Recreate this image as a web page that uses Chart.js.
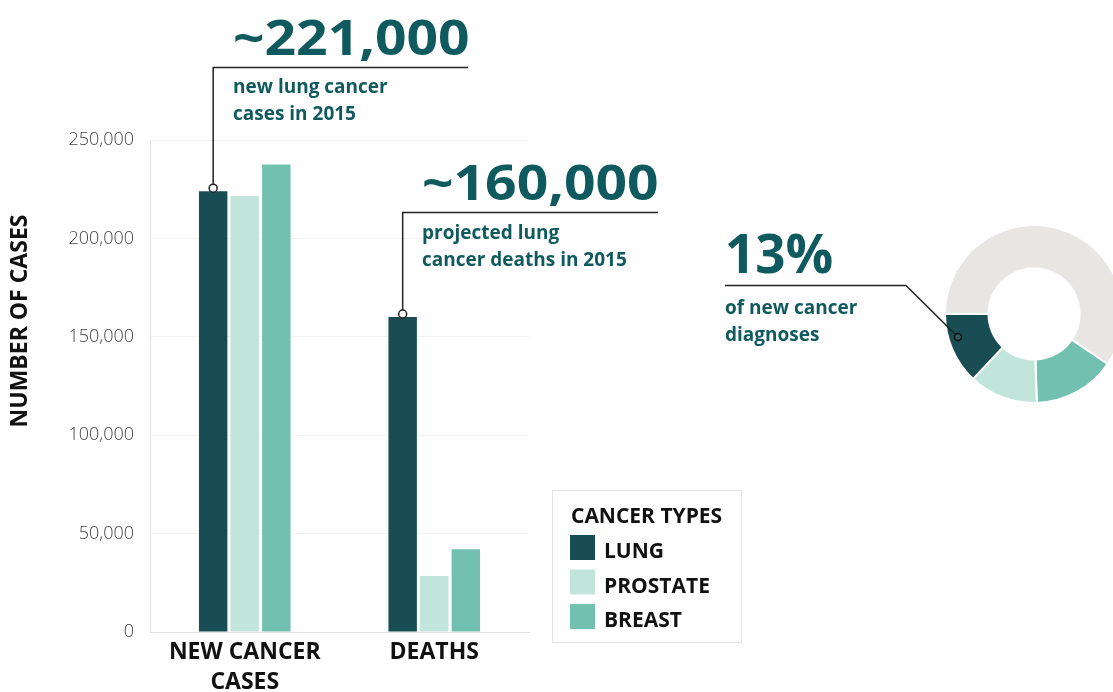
<!DOCTYPE html>
<html>
<head>
<meta charset="utf-8">
<script src="https://cdn.jsdelivr.net/npm/chart.js@4.4.0/dist/chart.umd.min.js"></script>
<style>
  html, body { margin: 0; padding: 0; width: 1113px; height: 692px; overflow: hidden; background: #fff; }
  canvas { position: absolute; left: 0; top: 0; }
</style>
</head>
<body>
<canvas id="bars" width="1113" height="692"></canvas>
<canvas id="ring" width="1200" height="692"></canvas>
<script>
// values
const categories = [["NEW CANCER", "CASES"], "DEATHS"];
const cancerTypes = ["LUNG", "PROSTATE", "BREAST"];
const lungCases = [224000, 160000];
const prostateCases = [221500, 28500];
const breastCases = [237500, 42000];
const yTicks = [0, 50000, 100000, 150000, 200000, 250000];

// share of new diagnoses (%), clockwise from 9 o'clock
const shareLabels = ["Other", "Breast", "Prostate", "Lung"];
const shareValues = [59.5, 15, 12.5, 13];

const colors = ["#174d53", "#c1e5db", "#72c1b0"];
const teal = "#0f5a5f";

function label(ctx, text, x, y, size, color, sx) {
  ctx.save();
  ctx.font = "bold " + size + 'px "Open Sans"';
  ctx.fillStyle = color;
  ctx.textBaseline = "alphabetic";
  ctx.translate(x, y);
  ctx.scale(sx || 1, 1);
  ctx.fillText(text, 0, 0);
  ctx.restore();
}

function callout(ctx, bar, lineY, lineEnd) {
  const cy = bar.y - 3;
  ctx.save();
  ctx.strokeStyle = "#222";
  ctx.lineWidth = 1.5;
  ctx.beginPath();
  ctx.moveTo(lineEnd, lineY);
  ctx.lineTo(bar.x, lineY);
  ctx.lineTo(bar.x, cy);
  ctx.stroke();
  ctx.beginPath();
  ctx.arc(bar.x, cy, 4, 0, Math.PI * 2);
  ctx.fillStyle = "#fff";
  ctx.fill();
  ctx.stroke();
  ctx.restore();
}

const barExtras = {
  id: "barExtras",
  afterDraw(chart) {
    const ctx = chart.ctx;

    // y axis title
    ctx.save();
    ctx.translate(20, 321);
    ctx.rotate(-Math.PI / 2);
    ctx.font = 'bold 23px "Open Sans"';
    ctx.fillStyle = "#111";
    ctx.textAlign = "center";
    ctx.textBaseline = "middle";
    ctx.fillText("NUMBER OF CASES", 0, 0);
    ctx.restore();

    // callouts on the lung bars
    const lung = chart.getDatasetMeta(0).data;
    callout(ctx, lung[0], 67.5, 468);
    label(ctx, "~221,000", 233, 55, 48, teal, 1.15);
    label(ctx, "new lung cancer", 233, 93, 19, teal);
    label(ctx, "cases in 2015", 233, 120, 19, teal);

    callout(ctx, lung[1], 212.5, 658);
    label(ctx, "~160,000", 422, 200, 48, teal, 1.15);
    label(ctx, "projected lung", 422, 239, 19, teal);
    label(ctx, "cancer deaths in 2015", 422, 266, 19, teal);

    // legend box
    ctx.save();
    ctx.strokeStyle = "#e4e4e4";
    ctx.lineWidth = 1;
    ctx.strokeRect(552.5, 490.5, 189, 152);
    ctx.restore();
    label(ctx, "CANCER TYPES", 571, 523, 21, "#111");
    const rows = [535, 569.5, 604];
    chart.data.datasets.forEach((ds, i) => {
      ctx.fillStyle = ds.backgroundColor;
      ctx.fillRect(570, rows[i], 25, 25);
      label(ctx, ds.label, 604, rows[i] + 23, 21, "#111");
    });
  }
};

new Chart(document.getElementById("bars"), {
  type: "bar",
  data: {
    labels: categories,
    datasets: [
      { label: cancerTypes[0], data: lungCases, backgroundColor: colors[0] },
      { label: cancerTypes[1], data: prostateCases, backgroundColor: colors[1] },
      { label: cancerTypes[2], data: breastCases, backgroundColor: colors[2] },
    ],
  },
  options: {
    responsive: false,
    animation: false,
    events: [],
    barPercentage: 0.9,
    categoryPercentage: 0.5,
    layout: { padding: { left: 0, top: 140, right: 1113 - 529, bottom: 0 } },
    plugins: { legend: { display: false }, tooltip: { enabled: false } },
    scales: {
      x: {
        grid: { display: false, drawTicks: false },
        border: { color: "#e2e2e2" },
        ticks: {
          color: "#111",
          padding: 6,
          font: { family: "Open Sans", size: 23, weight: "bold", lineHeight: 1.3 },
        },
        afterFit(scale) { scale.height = 60; },
      },
      y: {
        min: 0,
        max: 250000,
        afterBuildTicks(scale) { scale.ticks = yTicks.map((v) => ({ value: v })); },
        grid: { color: "#f2f2f2", drawTicks: false },
        border: { color: "#e2e2e2" },
        ticks: {
          color: "#444",
          padding: 16,
          font: { family: "Open Sans", size: 18, weight: 300 },
          callback: (v) => v.toLocaleString("en-US"),
        },
        afterFit(scale) { scale.width = 150; },
      },
    },
  },
  plugins: [barExtras],
});

const ringExtras = {
  id: "ringExtras",
  afterDraw(chart) {
    const ctx = chart.ctx;
    const arc = chart.getDatasetMeta(0).data[3];
    const a = arc.endAngle - 0.36 * (arc.endAngle - arc.startAngle);
    const r = arc.innerRadius + 0.78 * (arc.outerRadius - arc.innerRadius);
    const px = arc.x + Math.cos(a) * r;
    const py = arc.y + Math.sin(a) * r;

    ctx.save();
    ctx.strokeStyle = "#222";
    ctx.lineWidth = 1.5;
    ctx.beginPath();
    ctx.moveTo(725, 285.5);
    ctx.lineTo(906, 285.5);
    ctx.lineTo(px, py);
    ctx.stroke();
    ctx.beginPath();
    ctx.arc(px, py, 3.5, 0, Math.PI * 2);
    ctx.fillStyle = "#2a5a5e";
    ctx.fill();
    ctx.strokeStyle = "#111";
    ctx.stroke();
    ctx.restore();

    label(ctx, "13%", 725, 273, 53, teal);
    label(ctx, "of new cancer", 725, 314, 19, teal);
    label(ctx, "diagnoses", 725, 341, 19, teal);
  }
};

new Chart(document.getElementById("ring"), {
  type: "doughnut",
  data: {
    labels: shareLabels,
    datasets: [{
      data: shareValues,
      backgroundColor: ["#e7e6e3", colors[2], colors[1], colors[0]],
      borderColor: "#fff",
      borderWidth: 2,
      radius: 89,
      cutout: 45,
    }],
  },
  options: {
    responsive: false,
    animation: false,
    events: [],
    rotation: -90,
    layout: { padding: { left: 945, right: 1200 - 1123, top: 225, bottom: 692 - 403 } },
    plugins: { legend: { display: false }, tooltip: { enabled: false } },
  },
  plugins: [ringExtras],
});
</script>
</body>
</html>
